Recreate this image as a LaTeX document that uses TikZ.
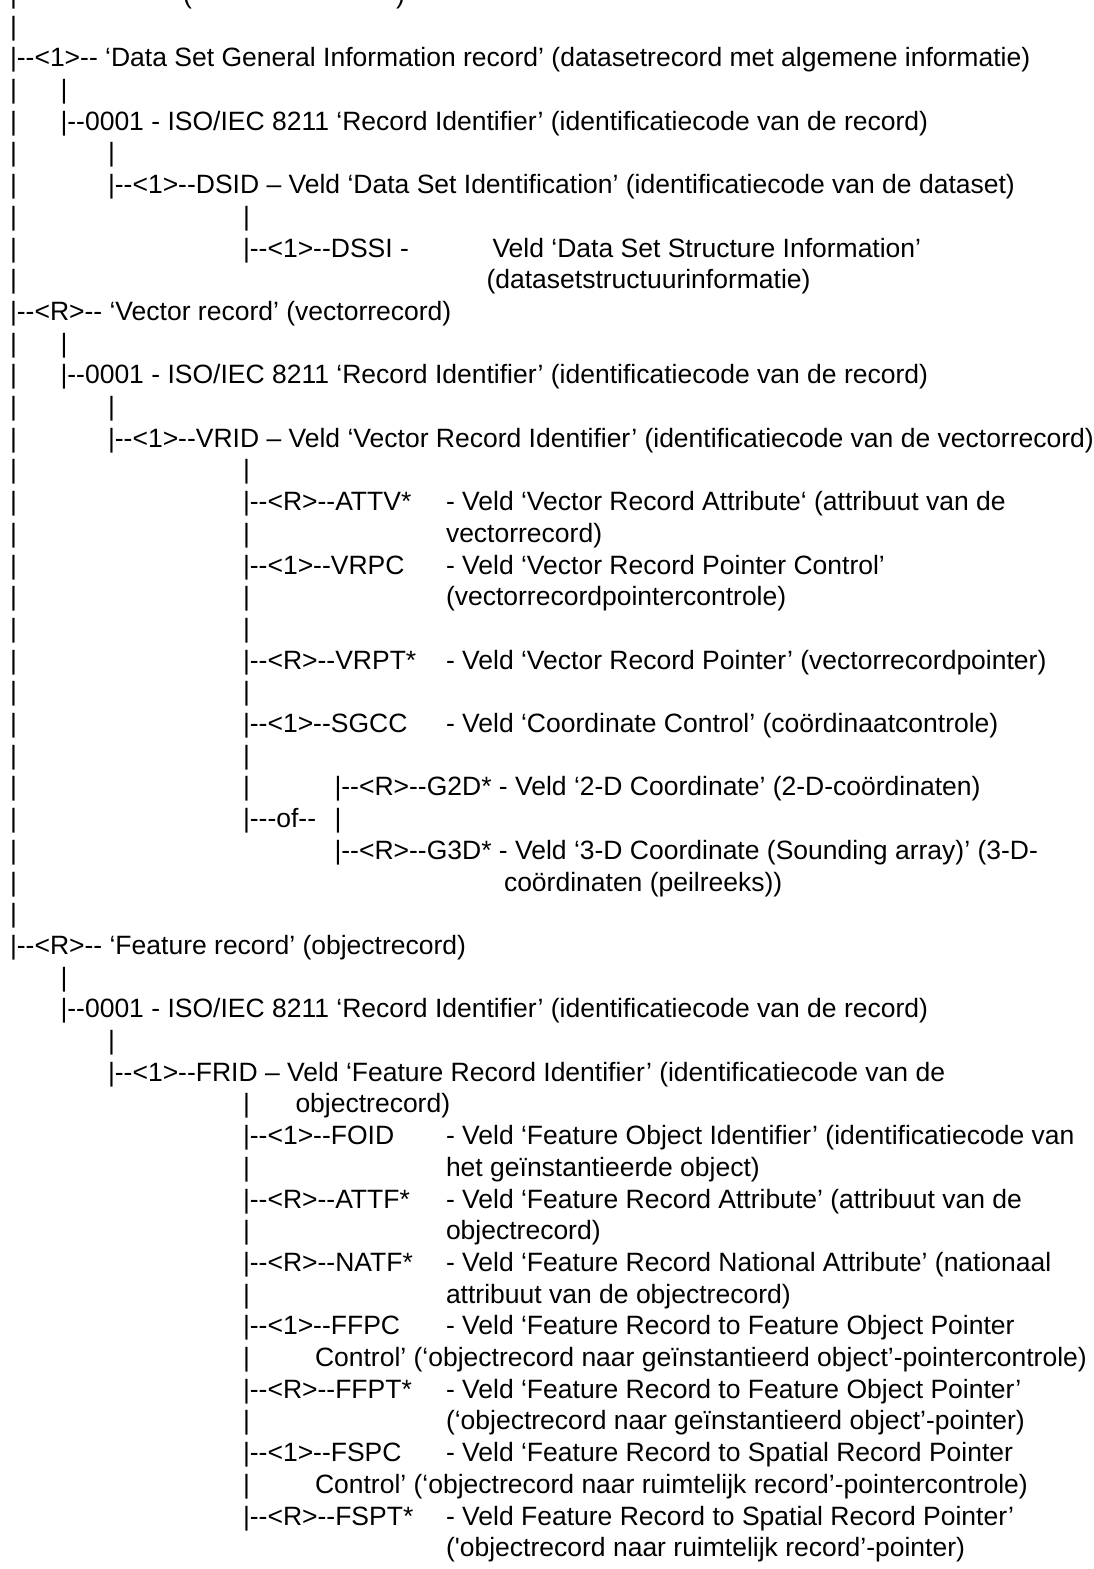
\documentclass[tikz,border=0pt]{standalone}
\usepackage{fontspec}
\newfontfamily\recfont{Liberation Sans}
\begin{document}
\begin{tikzpicture}[x=1pt,y=-1pt,
    ln/.style={anchor=base west,inner sep=0pt,outer sep=0pt,
      font=\recfont\fontsize{26.5}{31.7}\selectfont}
  ]
  \def\bz{-28.3}\def\lsp{31.7}
  \clip (0,0) rectangle (1094,1569);
  \fill[white] (0,0) rectangle (1094,1569);
  \foreach \r in {1,2,4,5,...,10,12,13,...,30}
    \node[ln] (barA-\r) at (10,{\bz+\r*\lsp}) {|};
  \foreach \r in {4,12,32}
    \node[ln] (barB-\r) at (60.5,{\bz+\r*\lsp}) {|};
  \foreach \r in {6,14,34}
    \node[ln] (barC-\r) at (108,{\bz+\r*\lsp}) {|};
  \foreach \r in {8,16,18,20,21,23,25,26,36,38,40,42,44,46,48}
    \node[ln] (barD-\r) at (243,{\bz+\r*\lsp}) {|};
  \node[ln] (barE-27) at (334.5,{\bz+27*\lsp}) {|};
  \node[ln] (top-l) at (183,{\bz+1*\lsp}) {(};
  \node[ln] (top-r) at (396,{\bz+1*\lsp}) {)};
  \node[ln] (dsgi) at (10,{\bz+3*\lsp}) {|--<1>-- ‘Data Set General Information record’ (datasetrecord met algemene informatie)};
  \node[ln] (dsgi-id) at (60.5,{\bz+5*\lsp}) {|--0001 - ISO/IEC 8211 ‘Record Identifier’ (identificatiecode van de record)};
  \node[ln] (dsid) at (108,{\bz+7*\lsp}) {|--<1>--DSID – Veld ‘Data Set Identification’ (identificatiecode van de dataset)};
  \node[ln] (dssi) at (243,{\bz+9*\lsp}) {|--<1>--DSSI -};
  \node[ln] (dssi-t) at (492.5,{\bz+9*\lsp}) {Veld ‘Data Set Structure Information’};
  \node[ln] (dssi-u) at (486.5,{\bz+10*\lsp}) {(datasetstructuurinformatie)};
  \node[ln] (vr) at (10,{\bz+11*\lsp}) {|--<R>-- ‘Vector record’ (vectorrecord)};
  \node[ln] (vr-id) at (60.5,{\bz+13*\lsp}) {|--0001 - ISO/IEC 8211 ‘Record Identifier’ (identificatiecode van de record)};
  \node[ln] (vrid) at (108,{\bz+15*\lsp}) {|--<1>--VRID – Veld ‘Vector Record Identifier’ (identificatiecode van de vectorrecord)};
  \node[ln] (attv) at (243,{\bz+17*\lsp}) {|--<R>--ATTV*};
  \node[ln] (attv-t) at (446,{\bz+17*\lsp}) {- Veld ‘Vector Record Attribute‘ (attribuut van de};
  \node[ln] (attv-u) at (446,{\bz+18*\lsp}) {vectorrecord)};
  \node[ln] (vrpc) at (243,{\bz+19*\lsp}) {|--<1>--VRPC};
  \node[ln] (vrpc-t) at (446,{\bz+19*\lsp}) {- Veld ‘Vector Record Pointer Control’};
  \node[ln] (vrpc-u) at (446,{\bz+20*\lsp}) {(vectorrecordpointercontrole)};
  \node[ln] (vrpt) at (243,{\bz+22*\lsp}) {|--<R>--VRPT*};
  \node[ln] (vrpt-t) at (446,{\bz+22*\lsp}) {- Veld ‘Vector Record Pointer’ (vectorrecordpointer)};
  \node[ln] (sgcc) at (243,{\bz+24*\lsp}) {|--<1>--SGCC};
  \node[ln] (sgcc-t) at (446,{\bz+24*\lsp}) {- Veld ‘Coordinate Control’ (coördinaatcontrole)};
  \node[ln] (g2d) at (334.5,{\bz+26*\lsp}) {|--<R>--G2D* - Veld ‘2-D Coordinate’ (2-D-coördinaten)};
  \node[ln] (of) at (243,{\bz+27*\lsp}) {|---of--};
  \node[ln] (g3d) at (334.5,{\bz+28*\lsp}) {|--<R>--G3D* - Veld ‘3-D Coordinate (Sounding array)’ (3-D-};
  \node[ln] (g3d-u) at (504,{\bz+29*\lsp}) {coördinaten (peilreeks))};
  \node[ln] (fr) at (10,{\bz+31*\lsp}) {|--<R>-- ‘Feature record’ (objectrecord)};
  \node[ln] (fr-id) at (60.5,{\bz+33*\lsp}) {|--0001 - ISO/IEC 8211 ‘Record Identifier’ (identificatiecode van de record)};
  \node[ln] (frid) at (108,{\bz+35*\lsp}) {|--<1>--FRID – Veld ‘Feature Record Identifier’ (identificatiecode van de};
  \node[ln] (frid-u) at (295.5,{\bz+36*\lsp}) {objectrecord)};
  \node[ln] (foid) at (243,{\bz+37*\lsp}) {|--<1>--FOID};
  \node[ln] (foid-t) at (446,{\bz+37*\lsp}) {- Veld ‘Feature Object Identifier’ (identificatiecode van};
  \node[ln] (foid-u) at (446,{\bz+38*\lsp}) {het geïnstantieerde object)};
  \node[ln] (attf) at (243,{\bz+39*\lsp}) {|--<R>--ATTF*};
  \node[ln] (attf-t) at (446,{\bz+39*\lsp}) {- Veld ‘Feature Record Attribute’ (attribuut van de};
  \node[ln] (attf-u) at (446,{\bz+40*\lsp}) {objectrecord)};
  \node[ln] (natf) at (243,{\bz+41*\lsp}) {|--<R>--NATF*};
  \node[ln] (natf-t) at (446,{\bz+41*\lsp}) {- Veld ‘Feature Record National Attribute’ (nationaal};
  \node[ln] (natf-u) at (446,{\bz+42*\lsp}) {attribuut van de objectrecord)};
  \node[ln] (ffpc) at (243,{\bz+43*\lsp}) {|--<1>--FFPC};
  \node[ln] (ffpc-t) at (446,{\bz+43*\lsp}) {- Veld ‘Feature Record to Feature Object Pointer};
  \node[ln] (ffpc-u) at (315,{\bz+44*\lsp}) {Control’ (‘objectrecord naar geïnstantieerd object’-pointercontrole)};
  \node[ln] (ffpt) at (243,{\bz+45*\lsp}) {|--<R>--FFPT*};
  \node[ln] (ffpt-t) at (446,{\bz+45*\lsp}) {- Veld ‘Feature Record to Feature Object Pointer’};
  \node[ln] (ffpt-u) at (446,{\bz+46*\lsp}) {(‘objectrecord naar geïnstantieerd object’-pointer)};
  \node[ln] (fspc) at (243,{\bz+47*\lsp}) {|--<1>--FSPC};
  \node[ln] (fspc-t) at (446,{\bz+47*\lsp}) {- Veld ‘Feature Record to Spatial Record Pointer};
  \node[ln] (fspc-u) at (315,{\bz+48*\lsp}) {Control’ (‘objectrecord naar ruimtelijk record’-pointercontrole)};
  \node[ln] (fspt) at (243,{\bz+49*\lsp}) {|--<R>--FSPT*};
  \node[ln] (fspt-t) at (446,{\bz+49*\lsp}) {- Veld Feature Record to Spatial Record Pointer’};
  \node[ln] (fspt-u) at (446,{\bz+50*\lsp}) {('objectrecord naar ruimtelijk record’-pointer)};
\end{tikzpicture}
\end{document}
